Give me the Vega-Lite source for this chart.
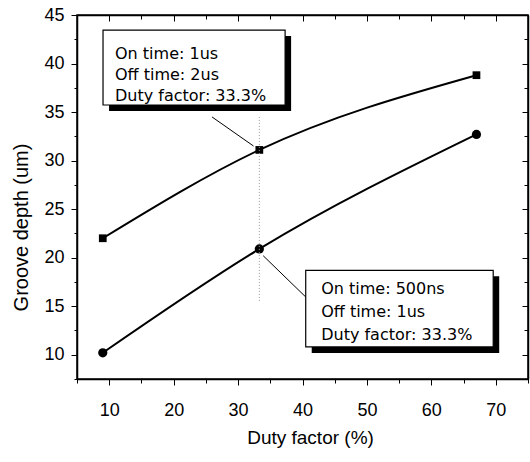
{
  "$schema": "https://vega.github.io/schema/vega-lite/v6.json",
  "width": 451,
  "height": 364,
  "autosize": "none",
  "padding": {"left": 77, "top": 15, "right": 2, "bottom": 83},
  "background": "white",
  "config": {
    "view": {"stroke": "black", "strokeWidth": 1.5},
    "font": "Liberation Sans",
    "axis": {
      "domainColor": "black",
      "domainWidth": 1.5,
      "tickColor": "black",
      "tickWidth": 1,
      "labelColor": "black",
      "titleColor": "black",
      "labelFont": "Liberation Sans",
      "titleFont": "Liberation Sans",
      "labelFontSize": 18,
      "titleFontSize": 19,
      "titleFontWeight": "normal",
      "grid": false
    }
  },
  "datasets": {
    "series": [
      {"duty": 9, "depth": 22.0, "s": "a"},
      {"duty": 33.3, "depth": 31.1, "s": "a"},
      {"duty": 67, "depth": 38.8, "s": "a"},
      {"duty": 9, "depth": 10.2, "s": "b"},
      {"duty": 33.3, "depth": 20.9, "s": "b"},
      {"duty": 67, "depth": 32.7, "s": "b"}
    ],
    "boxes": [
      {"x1": 9.04, "x2": 37.3, "y1": 43.45, "y2": 35.73},
      {"x1": 40.5, "x2": 69.6, "y1": 18.7, "y2": 10.8}
    ],
    "texts": [
      {"x": 10.9, "y": 41.0, "t": "On time: 1us"},
      {"x": 10.9, "y": 38.85, "t": "Off time: 2us"},
      {"x": 10.9, "y": 36.7, "t": "Duty factor: 33.3%"},
      {"x": 42.9, "y": 16.77, "t": "On time: 500ns"},
      {"x": 42.9, "y": 14.4, "t": "Off time: 1us"},
      {"x": 42.9, "y": 12.0, "t": "Duty factor: 33.3%"}
    ],
    "arrows": [
      {"x1": 25.95, "y1": 34.5, "x2": 32.4, "y2": 31.5},
      {"x1": 33.9, "y1": 20.2, "x2": 40.5, "y2": 15.95}
    ],
    "guide": [
      {"x1": 33.3, "y1": 34.5, "x2": 33.3, "y2": 15.5}
    ]
  },
  "resolve": {"axis": {"x": "independent", "y": "independent"}},
  "layer": [
    {
      "data": {"name": "series"},
      "mark": {"type": "line", "color": "black", "strokeWidth": 2, "interpolate": "monotone"},
      "encoding": {
        "x": {
          "field": "duty", "type": "quantitative",
          "scale": {"domain": [5, 75], "nice": false, "zero": false},
          "axis": {
            "orient": "bottom",
            "title": "Duty factor (%)",
            "titleFontSize": 19,
            "titlePadding": 9,
            "titleX": 233,
            "values": [5, 10, 15, 20, 25, 30, 35, 40, 45, 50, 55, 60, 65, 70, 75],
            "labelExpr": "datum.value % 10 === 0 ? datum.label : ''",
            "tickSize": {"condition": {"test": "datum.value % 10 === 0", "value": 6}, "value": 4},
            "labelPadding": 16,
            "format": "d"
          }
        },
        "y": {
          "field": "depth", "type": "quantitative",
          "scale": {"domain": [7.5, 45], "nice": false, "zero": false},
          "axis": {
            "orient": "left",
            "title": "Groove depth (um)",
            "titleFontSize": 20,
            "titlePadding": 12,
            "titleY": 212,
            "values": [7.5, 10, 12.5, 15, 17.5, 20, 22.5, 25, 27.5, 30, 32.5, 35, 37.5, 40, 42.5, 45],
            "labelExpr": "datum.value % 5 === 0 ? datum.label : ''",
            "tickSize": {"condition": {"test": "datum.value % 5 === 0", "value": 6}, "value": 3},
            "labelPadding": 7,
            "format": "d"
          }
        },
        "detail": {"field": "s"}
      }
    },
    {
      "data": {"name": "series"},
      "mark": {"type": "point", "filled": true, "color": "black", "opacity": 1},
      "encoding": {
        "x": {
          "field": "duty", "type": "quantitative",
          "scale": {"domain": [5, 75], "nice": false, "zero": false},
          "axis": {
            "orient": "top", "title": null, "labels": false,
            "values": [5, 10, 15, 20, 25, 30, 35, 40, 45, 50, 55, 60, 65, 70, 75],
            "tickSize": {"condition": {"test": "datum.value % 10 === 0", "value": -6}, "value": -4}
          }
        },
        "y": {
          "field": "depth", "type": "quantitative",
          "scale": {"domain": [7.5, 45], "nice": false, "zero": false},
          "axis": {
            "orient": "right", "title": null, "labels": false,
            "values": [7.5, 10, 12.5, 15, 17.5, 20, 22.5, 25, 27.5, 30, 32.5, 35, 37.5, 40, 42.5, 45],
            "tickSize": {"condition": {"test": "datum.value % 5 === 0", "value": -6}, "value": -4}
          }
        },
        "shape": {"field": "s", "type": "nominal", "scale": {"domain": ["a", "b"], "range": ["square", "circle"]}, "legend": null},
        "size": {"field": "s", "type": "nominal", "scale": {"domain": ["a", "b"], "range": [60, 85]}, "legend": null}
      }
    },
    {
      "data": {"name": "guide"},
      "mark": {"type": "rule", "color": "#999999", "strokeWidth": 1, "strokeDash": [1, 2]},
      "encoding": {
        "x": {"field": "x1", "type": "quantitative", "axis": null},
        "y": {"field": "y1", "type": "quantitative", "axis": null},
        "x2": {"field": "x2"},
        "y2": {"field": "y2"}
      }
    },
    {
      "data": {"name": "arrows"},
      "mark": {"type": "rule", "color": "black", "strokeWidth": 1},
      "encoding": {
        "x": {"field": "x1", "type": "quantitative", "axis": null},
        "y": {"field": "y1", "type": "quantitative", "axis": null},
        "x2": {"field": "x2"},
        "y2": {"field": "y2"}
      }
    },
    {
      "data": {"name": "boxes"},
      "mark": {"type": "rect", "color": "black", "xOffset": 6, "x2Offset": 6, "yOffset": 6, "y2Offset": 6},
      "encoding": {
        "x": {"field": "x1", "type": "quantitative", "axis": null},
        "y": {"field": "y1", "type": "quantitative", "axis": null},
        "x2": {"field": "x2"},
        "y2": {"field": "y2"}
      }
    },
    {
      "data": {"name": "boxes"},
      "mark": {"type": "rect", "fill": "white", "stroke": "black", "strokeWidth": 1.2},
      "encoding": {
        "x": {"field": "x1", "type": "quantitative", "axis": null},
        "y": {"field": "y1", "type": "quantitative", "axis": null},
        "x2": {"field": "x2"},
        "y2": {"field": "y2"}
      }
    },
    {
      "data": {"name": "texts"},
      "mark": {"type": "text", "align": "left", "baseline": "middle", "fontSize": 16, "font": "DejaVu Sans", "color": "black"},
      "encoding": {
        "x": {"field": "x", "type": "quantitative", "axis": null},
        "y": {"field": "y", "type": "quantitative", "axis": null},
        "text": {"field": "t"}
      }
    }
  ]
}
